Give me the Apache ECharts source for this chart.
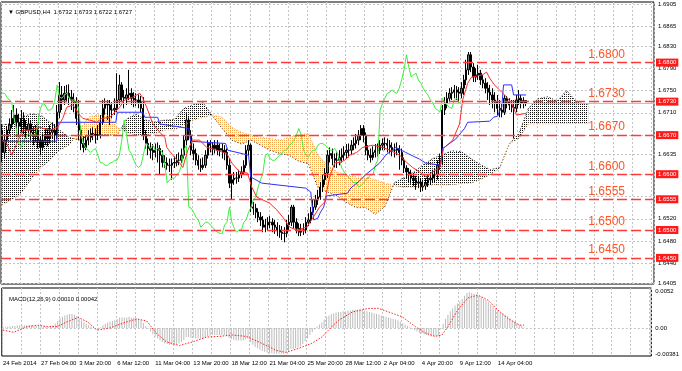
<!DOCTYPE html>
<html><head><meta charset="utf-8">
<script src="https://cdn.jsdelivr.net/npm/echarts@6/dist/echarts.min.js"></script>
<style>html,body{margin:0;padding:0;background:#fff}#c{width:682px;height:371px}</style>
</head><body><div id="c"></div>
<script>
// ---- data ----
const titleText = '\u25BC GBPUSD,H4  1.6732 1.6733 1.6722 1.6727';
const macdTitle = 'MACD(12,26,9) 0.00010 0.00042';
const slotCount = 273;
const timeLabels = ['24 Feb 2014','27 Feb 04:00','3 Mar 20:00','6 Mar 12:00','11 Mar 04:00','13 Mar 20:00','18 Mar 12:00','21 Mar 04:00','25 Mar 20:00','28 Mar 12:00','2 Apr 04:00','4 Apr 20:00','9 Apr 12:00','14 Apr 04:00'];
const timeLabelIdx = [0,16,32,48,64,80,96,112,128,144,160,176,192,208];
const priceGrid = [1.6405,1.6440,1.6480,1.6520,1.6560,1.6600,1.6635,1.6670,1.6710,1.6750,1.6790,1.6830,1.6865,1.6905];
const priceLabels = [1.6405,1.6440,1.6480,1.6520,1.6635,1.6710,1.6750,1.6790,1.6830,1.6865,1.6905];
const macdLabels = [0.0052,0,-0.00381];
const levels = [1.6800,1.6730,1.6670,1.6600,1.6555,1.6500,1.6450];
const bidPrice = 1.6727;

// candles: [open, close, low, high]
const candles = [
[1.6679,1.6639,1.6621,1.6690],[1.6639,1.6661,1.6628,1.6670],[1.6661,1.6679,1.6652,1.6686],[1.6679,1.6688,1.6672,1.6700],[1.6688,1.6700,1.6682,1.6715],
[1.6700,1.6706,1.6690,1.6724],[1.6706,1.6693,1.6682,1.6718],[1.6693,1.6686,1.6670,1.6708],[1.6686,1.6700,1.6675,1.6715],[1.6700,1.6684,1.6672,1.6711],
[1.6684,1.6679,1.6664,1.6697],[1.6679,1.6690,1.6668,1.6700],[1.6690,1.6675,1.6661,1.6697],[1.6675,1.6668,1.6652,1.6686],[1.6668,1.6679,1.6657,1.6688],
[1.6679,1.6661,1.6646,1.6682],[1.6661,1.6648,1.6634,1.6668],[1.6648,1.6661,1.6643,1.6673],[1.6661,1.6670,1.6652,1.6682],[1.6670,1.6664,1.6650,1.6682],
[1.6664,1.6675,1.6655,1.6688],[1.6675,1.6679,1.6664,1.6693],[1.6679,1.6670,1.6657,1.6690],[1.6670,1.6711,1.6664,1.6724],[1.6711,1.6742,1.6700,1.6765],
[1.6742,1.6733,1.6715,1.6758],[1.6733,1.6745,1.6724,1.6758],[1.6745,1.6745,1.6729,1.6760],[1.6745,1.6738,1.6724,1.6761],[1.6738,1.6733,1.6715,1.6751],
[1.6733,1.6729,1.6711,1.6745],[1.6729,1.6700,1.6688,1.6738],[1.6700,1.6679,1.6661,1.6733],[1.6679,1.6655,1.6643,1.6686],[1.6655,1.6648,1.6639,1.6668],
[1.6648,1.6661,1.6643,1.6670],[1.6661,1.6666,1.6652,1.6679],[1.6666,1.6673,1.6657,1.6682],[1.6673,1.6672,1.6661,1.6684],[1.6672,1.6670,1.6655,1.6682],
[1.6670,1.6670,1.6661,1.6688],[1.6670,1.6693,1.6664,1.6706],[1.6693,1.6718,1.6688,1.6733],[1.6718,1.6727,1.6706,1.6736],[1.6727,1.6724,1.6697,1.6733],
[1.6724,1.6715,1.6688,1.6733],[1.6715,1.6715,1.6700,1.6729],[1.6715,1.6718,1.6706,1.6736],[1.6718,1.6733,1.6711,1.6781],[1.6733,1.6760,1.6724,1.6778],
[1.6760,1.6738,1.6729,1.6765],[1.6738,1.6736,1.6718,1.6751],[1.6736,1.6742,1.6724,1.6754],[1.6742,1.6745,1.6733,1.6787],[1.6745,1.6736,1.6724,1.6754],
[1.6736,1.6733,1.6720,1.6747],[1.6733,1.6733,1.6722,1.6745],[1.6733,1.6729,1.6718,1.6743],[1.6729,1.6718,1.6711,1.6740],[1.6718,1.6670,1.6661,1.6738],
[1.6670,1.6655,1.6646,1.6679],[1.6655,1.6646,1.6634,1.6664],[1.6646,1.6643,1.6628,1.6657],[1.6643,1.6639,1.6625,1.6654],[1.6639,1.6643,1.6630,1.6655],
[1.6643,1.6646,1.6621,1.6657],[1.6646,1.6634,1.6599,1.6652],[1.6634,1.6621,1.6612,1.6643],[1.6621,1.6620,1.6611,1.6634],[1.6620,1.6616,1.6608,1.6630],
[1.6616,1.6616,1.6604,1.6628],[1.6616,1.6620,1.6590,1.6628],[1.6620,1.6621,1.6611,1.6632],[1.6621,1.6625,1.6614,1.6636],[1.6625,1.6625,1.6616,1.6639],
[1.6625,1.6634,1.6620,1.6646],[1.6634,1.6661,1.6628,1.6670],[1.6661,1.6697,1.6652,1.6709],[1.6697,1.6670,1.6661,1.6702],[1.6670,1.6643,1.6634,1.6679],
[1.6643,1.6637,1.6625,1.6655],[1.6637,1.6625,1.6616,1.6646],[1.6625,1.6616,1.6608,1.6634],[1.6616,1.6612,1.6604,1.6628],[1.6612,1.6616,1.6608,1.6630],
[1.6616,1.6634,1.6611,1.6643],[1.6634,1.6655,1.6628,1.6661],[1.6655,1.6652,1.6639,1.6661],[1.6652,1.6646,1.6634,1.6657],[1.6646,1.6652,1.6637,1.6661],
[1.6652,1.6643,1.6634,1.6661],[1.6643,1.6646,1.6632,1.6655],[1.6646,1.6643,1.6628,1.6655],[1.6643,1.6639,1.6625,1.6652],[1.6639,1.6616,1.6608,1.6646],
[1.6616,1.6584,1.6575,1.6628],[1.6584,1.6590,1.6554,1.6599],[1.6590,1.6593,1.6581,1.6604],[1.6593,1.6593,1.6583,1.6604],[1.6593,1.6599,1.6586,1.6608],
[1.6599,1.6604,1.6593,1.6614],[1.6604,1.6616,1.6599,1.6625],[1.6616,1.6643,1.6611,1.6652],[1.6643,1.6652,1.6634,1.6661],[1.6652,1.6541,1.6532,1.6655],
[1.6541,1.6539,1.6527,1.6550],[1.6539,1.6532,1.6521,1.6547],[1.6532,1.6523,1.6514,1.6539],[1.6523,1.6518,1.6507,1.6532],[1.6518,1.6505,1.6496,1.6525],
[1.6505,1.6509,1.6496,1.6520],[1.6509,1.6514,1.6500,1.6523],[1.6514,1.6514,1.6503,1.6525],[1.6514,1.6509,1.6496,1.6521],[1.6509,1.6505,1.6493,1.6518],
[1.6505,1.6500,1.6489,1.6514],[1.6500,1.6496,1.6486,1.6509],[1.6496,1.6494,1.6482,1.6507],[1.6494,1.6494,1.6478,1.6505],[1.6494,1.6509,1.6487,1.6518],
[1.6509,1.6514,1.6500,1.6527],[1.6514,1.6541,1.6507,1.6545],[1.6541,1.6514,1.6503,1.6545],[1.6514,1.6503,1.6494,1.6521],[1.6503,1.6496,1.6489,1.6512],
[1.6496,1.6500,1.6489,1.6511],[1.6500,1.6500,1.6491,1.6512],[1.6500,1.6514,1.6494,1.6523],[1.6514,1.6518,1.6507,1.6530],[1.6518,1.6532,1.6512,1.6541],
[1.6532,1.6541,1.6527,1.6554],[1.6541,1.6554,1.6536,1.6563],[1.6554,1.6559,1.6545,1.6572],[1.6559,1.6577,1.6554,1.6586],[1.6577,1.6590,1.6568,1.6599],
[1.6590,1.6602,1.6581,1.6611],[1.6602,1.6634,1.6593,1.6643],[1.6634,1.6637,1.6621,1.6648],[1.6637,1.6628,1.6616,1.6646],[1.6628,1.6625,1.6612,1.6637],
[1.6625,1.6625,1.6611,1.6639],[1.6625,1.6630,1.6616,1.6643],[1.6630,1.6634,1.6621,1.6646],[1.6634,1.6639,1.6625,1.6650],[1.6639,1.6643,1.6628,1.6654],
[1.6643,1.6643,1.6630,1.6655],[1.6643,1.6652,1.6634,1.6661],[1.6652,1.6655,1.6643,1.6666],[1.6655,1.6661,1.6646,1.6672],[1.6661,1.6670,1.6652,1.6679],
[1.6670,1.6682,1.6661,1.6688],[1.6682,1.6670,1.6657,1.6688],[1.6670,1.6643,1.6634,1.6675],[1.6643,1.6634,1.6625,1.6652],[1.6634,1.6630,1.6621,1.6646],
[1.6630,1.6639,1.6625,1.6650],[1.6639,1.6643,1.6630,1.6654],[1.6643,1.6643,1.6632,1.6655],[1.6643,1.6652,1.6636,1.6661],[1.6652,1.6655,1.6643,1.6664],
[1.6655,1.6655,1.6643,1.6666],[1.6655,1.6652,1.6639,1.6664],[1.6652,1.6648,1.6637,1.6661],[1.6648,1.6643,1.6632,1.6657],[1.6643,1.6643,1.6630,1.6655],
[1.6643,1.6646,1.6634,1.6657],[1.6646,1.6639,1.6608,1.6652],[1.6639,1.6625,1.6616,1.6646],[1.6625,1.6611,1.6602,1.6630],[1.6611,1.6604,1.6593,1.6616],
[1.6604,1.6599,1.6586,1.6611],[1.6599,1.6593,1.6583,1.6608],[1.6593,1.6590,1.6579,1.6602],[1.6590,1.6584,1.6572,1.6597],[1.6584,1.6586,1.6575,1.6597],
[1.6586,1.6577,1.6568,1.6593],[1.6577,1.6579,1.6570,1.6590],[1.6579,1.6584,1.6572,1.6593],[1.6584,1.6590,1.6577,1.6599],[1.6590,1.6593,1.6581,1.6604],
[1.6593,1.6599,1.6584,1.6608],[1.6599,1.6599,1.6586,1.6609],[1.6599,1.6616,1.6590,1.6625],[1.6616,1.6625,1.6608,1.6637],[1.6625,1.6715,1.6616,1.6724],
[1.6715,1.6727,1.6706,1.6738],[1.6727,1.6736,1.6718,1.6747],[1.6736,1.6745,1.6729,1.6754],[1.6745,1.6747,1.6733,1.6756],[1.6747,1.6751,1.6736,1.6760],
[1.6751,1.6747,1.6733,1.6758],[1.6747,1.6745,1.6729,1.6756],[1.6745,1.6754,1.6736,1.6765],[1.6754,1.6769,1.6742,1.6778],[1.6769,1.6787,1.6760,1.6805],
[1.6787,1.6814,1.6778,1.6819],[1.6814,1.6792,1.6783,1.6819],[1.6792,1.6774,1.6765,1.6799],[1.6774,1.6778,1.6765,1.6790],[1.6778,1.6781,1.6769,1.6796],
[1.6781,1.6769,1.6760,1.6787],[1.6769,1.6763,1.6754,1.6778],[1.6763,1.6754,1.6745,1.6772],[1.6754,1.6747,1.6733,1.6765],[1.6747,1.6742,1.6724,1.6760],
[1.6742,1.6733,1.6718,1.6754],[1.6733,1.6729,1.6711,1.6747],[1.6729,1.6718,1.6706,1.6742],[1.6718,1.6715,1.6702,1.6733],[1.6715,1.6711,1.6702,1.6727],
[1.6711,1.6736,1.6706,1.6742],[1.6736,1.6729,1.6718,1.6740],[1.6729,1.6724,1.6715,1.6736],[1.6724,1.6720,1.6711,1.6733],[1.6720,1.6718,1.6664,1.6733],
[1.6718,1.6733,1.6711,1.6742],[1.6733,1.6736,1.6724,1.6751],[1.6736,1.6727,1.6718,1.6742],[1.6727,1.6732,1.6718,1.6738],[1.6732,1.6727,1.6722,1.6733]
];

// Chikou span (drawn from slot 0)
const chikou = [
1.6745,1.6745,1.6738,1.6733,1.6729,1.6700,1.6679,1.6655,1.6648,1.6661,
1.6666,1.6673,1.6672,1.6670,1.6670,1.6693,1.6718,1.6727,1.6724,1.6715,
1.6715,1.6718,1.6733,1.6760,1.6738,1.6736,1.6742,1.6745,1.6736,1.6733,
1.6733,1.6729,1.6718,1.6670,1.6655,1.6646,1.6643,1.6639,1.6643,1.6646,
1.6634,1.6621,1.6620,1.6616,1.6616,1.6620,1.6621,1.6625,1.6625,1.6634,
1.6661,1.6697,1.6670,1.6643,1.6637,1.6625,1.6616,1.6612,1.6616,1.6634,
1.6655,1.6652,1.6646,1.6652,1.6643,1.6646,1.6643,1.6639,1.6616,1.6584,
1.6590,1.6593,1.6593,1.6599,1.6604,1.6616,1.6643,1.6652,1.6541,1.6539,
1.6532,1.6523,1.6518,1.6505,1.6509,1.6514,1.6514,1.6509,1.6505,1.6500,
1.6496,1.6494,1.6494,1.6509,1.6514,1.6541,1.6514,1.6503,1.6496,1.6500,
1.6500,1.6514,1.6518,1.6532,1.6541,1.6554,1.6559,1.6577,1.6590,1.6602,
1.6634,1.6637,1.6628,1.6625,1.6625,1.6630,1.6634,1.6639,1.6643,1.6643,
1.6652,1.6655,1.6661,1.6670,1.6682,1.6670,1.6643,1.6634,1.6630,1.6639,
1.6643,1.6643,1.6652,1.6655,1.6655,1.6652,1.6648,1.6643,1.6643,1.6646,
1.6639,1.6625,1.6611,1.6604,1.6599,1.6593,1.6590,1.6584,1.6586,1.6577,
1.6579,1.6584,1.6590,1.6593,1.6599,1.6599,1.6616,1.6625,1.6715,1.6727,
1.6736,1.6745,1.6747,1.6751,1.6747,1.6745,1.6754,1.6769,1.6787,1.6814,
1.6792,1.6774,1.6778,1.6781,1.6769,1.6763,1.6754,1.6747,1.6742,1.6733,
1.6729,1.6718,1.6715,1.6711,1.6736,1.6729,1.6724,1.6720,1.6718,1.6733,
1.6736,1.6727,1.6732,1.6727
];

// Tenkan-sen [slot, price]
const tenkan = [
[0,1.6661],[1.9,1.6655],[4,1.6634],[6.1,1.6655],[8.6,1.6679],[11.5,1.6679],[15.7,1.6684],[19.9,1.6679],[23.2,1.6684],[25.3,1.6700],
[27,1.6720],[29.5,1.6724],[32.4,1.6706],[33.7,1.6700],[36.6,1.6697],[39.5,1.6693],[41.6,1.6700],[45,1.6702],[49.1,1.6720],[51.2,1.6733],
[54.6,1.6738],[57.5,1.6745],[58.8,1.6736],[60.4,1.6720],[62.9,1.6691],[65.9,1.6675],[68,1.6666],[68.8,1.6648],[71.3,1.6634],[74.2,1.6620],
[75.5,1.6612],[77.6,1.6643],[79.6,1.6661],[82.6,1.6661],[85.5,1.6648],[89.7,1.6643],[93.9,1.6637],[96,1.6620],[99.3,1.6604],[102.6,1.6602],
[104.3,1.6577],[106.4,1.6559],[108.9,1.6554],[111.8,1.6548],[114.8,1.6536],[117.3,1.6523],[120.2,1.6505],[123.1,1.6500],[127.3,1.6505],[129.8,1.6521],
[132.7,1.6541],[134.8,1.6550],[136.9,1.6595],[139,1.6620],[141.1,1.6621],[143.2,1.6625],[145.3,1.6634],[148.2,1.6639],[150.7,1.6648],[154.9,1.6652],
[159,1.6648],[162,1.6643],[166.2,1.6634],[169.1,1.6621],[171.6,1.6612],[174.5,1.6604],[177.4,1.6595],[179.9,1.6604],[182.9,1.6612],[184.5,1.6646],
[188.3,1.6661],[191.2,1.6690],[192.5,1.6733],[194.6,1.6763],[196.2,1.6774],[200.8,1.6778],[202.5,1.6783],[203.8,1.6772],[205.8,1.6760],[208.8,1.6747],
[210.9,1.6738],[213,1.6727],[215,1.6706],[219,1.6709]
];

// Kijun-sen [slot, price]
const kijun = [
[0,1.6659],[22.8,1.6659],[23.4,1.6693],[47.5,1.6693],[48.1,1.6711],[58.8,1.6711],[59.6,1.6702],[65,1.6702],[65.9,1.6690],[78,1.6682],
[78.8,1.6659],[93.4,1.6655],[94.3,1.6643],[103,1.6634],[103.9,1.6595],[108.5,1.6584],[126.9,1.6575],[129,1.6568],[130.2,1.6518],[131.9,1.6521],
[133.1,1.6532],[134.4,1.6541],[135.6,1.6561],[144.4,1.6566],[145.7,1.6575],[149.4,1.6588],[151.9,1.6599],[154.5,1.6608],[157.8,1.6620],[160.3,1.6634],
[164.5,1.6648],[168.7,1.6639],[172,1.6632],[174.5,1.6627],[177,1.6620],[183.3,1.6616],[184.1,1.6646],[189.6,1.6663],[193.3,1.6682],[194.6,1.6693],
[203.8,1.6695],[205.4,1.6702],[207.1,1.6704],[207.9,1.6713],[208.8,1.6718],[209.6,1.6760],[213,1.6760],[213.8,1.6742],[219,1.6742]
];

// Senkou spans sampled at these slots
const cloudSlots = [0,4,8,12,16,20,24,28,32,36,40,44,48,52,56,60,64,68,72,76,80,84,88,92,96,100,104,108,112,116,120,124,128,132,136,140,144,148,152,156,160,164,168,172,176,180,184,188,192,196,200,204,208,212,216,220,224,228,232,236,240,244,245];
const spanA = [
1.6688,1.6691,1.6702,1.6708,1.6706,1.6693,1.6679,1.6666,1.6661,1.6669,
1.6671,1.6671,1.6669,1.6699,1.6708,1.6697,1.6694,1.6697,1.6698,1.6718,
1.6725,1.6728,1.6704,1.6682,1.6661,1.6654,1.6661,1.6652,1.6643,1.6637,
1.6634,1.6623,1.6619,1.6576,1.6568,1.6561,1.6549,1.6540,1.6540,1.6528,
1.6542,1.6585,1.6594,1.6604,1.6617,1.6628,1.6635,1.6642,1.6640,1.6628,
1.6617,1.6608,1.6612,1.6654,1.6673,1.6718,1.6735,1.6739,1.6731,1.6750,
1.6730,1.6725,1.6725
];
const spanB = [
1.6545,1.6554,1.6566,1.6590,1.6611,1.6625,1.6643,1.6652,1.6675,1.6702,
1.6706,1.6706,1.6684,1.6675,1.6670,1.6670,1.6673,1.6679,1.6679,1.6688,
1.6697,1.6702,1.6706,1.6702,1.6684,1.6675,1.6670,1.6666,1.6664,1.6661,
1.6666,1.6670,1.6673,1.6634,1.6616,1.6604,1.6599,1.6595,1.6595,1.6590,
1.6584,1.6579,1.6577,1.6577,1.6579,1.6581,1.6581,1.6581,1.6583,1.6584,
1.6590,1.6599,1.6611,1.6655,1.6664,1.6690,1.6690,1.6690,1.6690,1.6691,
1.6691,1.6691,1.6691
];

// MACD main (histogram), one per bar
const macdMain = [
0.0001,0.0001,0.0002,0.0002,0.0003,0.0003,0.0004,
0.0004,0.0004,0.0004,0.0004,0.0004,0.0004,0.0003,0.0003,
0.0003,0.0002,0.0002,0.0002,0.0002,0.0003,0.0004,
0.0006,0.0010,0.0014,0.0016,
0.0018,0.0019,0.0020,0.0020,0.0019,0.0017,0.0014,
0.0011,0.0008,0.0006,0.0004,0.0002,
0.0001,0.0000,-0.0001,0.0001,
0.0004,0.0006,0.0008,0.0009,0.0010,
0.0011,0.0013,0.0015,0.0015,0.0015,0.0015,0.0016,0.0015,0.0015,0.0014,0.0013,
0.0011,0.0007,0.0003,-0.0001,
-0.0005,-0.0009,-0.0012,-0.0015,-0.0018,
-0.0020,-0.0022,-0.0023,-0.0024,-0.0024,-0.0024,-0.0023,-0.0022,
-0.0020,-0.0017,-0.0013,-0.0013,-0.0014,-0.0014,-0.0015,-0.0015,-0.0015,
-0.0015,-0.0014,-0.0012,-0.0011,-0.0010,-0.0010,-0.0010,-0.0010,-0.0010,-0.0010,-0.0011,-0.0014,-0.0016,
-0.0017,-0.0018,-0.0018,-0.0018,-0.0018,-0.0016,-0.0015,-0.0020,-0.0024,-0.0027,
-0.0029,-0.0031,-0.0033,-0.0034,-0.0035,-0.0036,-0.0036,-0.0037,-0.0037,-0.0037,-0.0037,-0.0037,-0.0035,-0.0034,
-0.0030,-0.0030,-0.0029,-0.0028,-0.0026,-0.0023,-0.0019,-0.0015,-0.0010,
-0.0006,-0.0002,0.0002,0.0005,0.0008,0.0012,0.0016,0.0018,0.0020,
0.0021,0.0022,0.0023,0.0023,0.0024,0.0024,0.0025,0.0025,0.0026,0.0026,
0.0026,0.0027,0.0026,0.0025,0.0024,0.0023,0.0022,0.0021,0.0020,
0.0019,0.0018,0.0017,0.0016,0.0015,0.0014,0.0013,0.0012,0.0011,
0.0009,0.0007,0.0005,0.0003,0.0001,-0.0001,-0.0003,-0.0005,-0.0007,
-0.0008,-0.0009,-0.0010,-0.0011,-0.0012,-0.0012,-0.0012,-0.0011,
-0.0002,0.0006,0.0013,0.0019,0.0024,0.0028,0.0032,
0.0035,0.0038,0.0042,0.0046,0.0050,
0.0051,0.0050,0.0049,0.0048,0.0046,
0.0044,0.0042,0.0040,0.0037,0.0034,0.0031,0.0028,0.0025,0.0022,0.0021,0.0019,0.0017,
0.0014,0.0011,0.0009,0.0007,0.0005,0.0003,0.0001
];

// MACD signal [slot, value]
const macdSignal = [
[0,-0.0003],[4.4,-0.0006],[10.3,0.0002],[14.5,0.0004],[18.6,0.0002],[22.8,0.0002],[27,0.0009],[31.6,0.0015],[35.4,0.0009],[39.5,-0.0003],
[45,0.0000],[50.4,0.0007],[56.2,0.0013],[60.4,0.0010],[64.6,-0.0008],[68.8,-0.0020],[74.2,-0.0025],[79.6,-0.0020],[85.5,-0.0013],[90.9,-0.0012],
[96.4,-0.0010],[102.2,-0.0012],[107.6,-0.0020],[114.8,-0.0032],[118.9,-0.0035],[124.4,-0.0029],[129.8,-0.0022],[134,-0.0013],[138.2,0.0002],[141.1,0.0011],
[146.9,0.0023],[153.6,0.0028],[157.8,0.0028],[162,0.0023],[167.8,0.0016],[173.3,0.0002],[177.4,-0.0007],[181.6,-0.0012],[184.5,-0.0010],[187,0.0002],
[191.2,0.0026],[195.4,0.0043],[199.6,0.0047],[203.8,0.0040],[207.9,0.0026],[212.1,0.0014],[217.1,0.0004],[219,0.00042]
];

// ---- build ----
const slots = Array.from({length: slotCount}, (_, i) => String(i));
const labelAt = {};
timeLabelIdx.forEach((k, j) => { labelAt[k] = timeLabels[j]; });

function dotPattern(color, w, h) {
  const c = document.createElement('canvas');
  c.width = w; c.height = h;
  const g = c.getContext('2d');
  g.fillStyle = color; g.fillRect(0, 0, 1, 1);
  return { image: c, repeat: 'repeat' };
}
const upPattern = dotPattern('#111111', 2, 2);
const downPattern = dotPattern('#f5a650', 2, 2);

// cloud segments between consecutive samples: [x0, x1, a0, a1, b0, b1]
const cloudSegs = [];
for (let k = 0; k < cloudSlots.length - 1; k++) {
  cloudSegs.push([cloudSlots[k], cloudSlots[k + 1], spanA[k], spanA[k + 1], spanB[k], spanB[k + 1]]);
}
function renderCloud(params, api) {
  const x0 = api.value(0), x1 = api.value(1), a0 = api.value(2), a1 = api.value(3), b0 = api.value(4), b1 = api.value(5);
  const d0 = a0 - b0, d1 = a1 - b1;
  const out = [];
  const poly = (xa, xb, aa, ab, ba, bb, up) => ({
    type: 'polygon', silent: true,
    shape: { points: [api.coord([xa, aa]), api.coord([xb, ab]), api.coord([xb, bb]), api.coord([xa, ba])] },
    style: { fill: up ? upPattern : downPattern, stroke: null }
  });
  if (d0 * d1 < 0) {
    const t = d0 / (d0 - d1);
    const xm = x0 + t * (x1 - x0), am = a0 + t * (a1 - a0);
    out.push(poly(x0, xm, a0, am, b0, am, d0 > 0));
    out.push(poly(xm, x1, am, a1, am, b1, d1 > 0));
  } else {
    out.push(poly(x0, x1, a0, a1, b0, b1, (d0 + d1) >= 0));
  }
  return { type: 'group', children: out };
}

const FONT = 'Liberation Sans';
const gridLine = { show: true, lineStyle: { color: '#c4c4c4', type: [2, 2], width: 1 } };
const vInterval = (i) => i % 8 === 0;

const levelLines = levels.map(v => ({
  yAxis: v,
  lineStyle: { color: '#ff3a3a', type: [10, 4], width: 1.3 },
  label: { show: true, position: 'end', formatter: v.toFixed(4), backgroundColor: '#ff1a1a', color: '#fff', fontSize: 6, fontFamily: FONT, padding: [1, 2, 1, 2], distance: 2 }
}));
const levelTexts = levels.map(v => ({
  yAxis: v,
  label: { show: true, position: 'insideEndTop', formatter: v.toFixed(4), color: '#ff5526', fontSize: 12, fontFamily: FONT, padding: [0, 27, 0, 0], distance: 2 }
}));

const option = {
  animation: false,
  backgroundColor: '#ffffff',
  textStyle: { fontFamily: FONT },
  title: [
    { text: titleText, left: 3, top: 4, textStyle: { fontSize: 6, fontWeight: 'normal', color: '#000', fontFamily: FONT } },
    { text: macdTitle, left: 4, top: 291, textStyle: { fontSize: 6, fontWeight: 'normal', color: '#000', fontFamily: FONT } }
  ],
  grid: [
    { left: 1, right: 28, top: 2, height: 282, show: true, borderColor: '#000', borderWidth: 1, backgroundColor: 'transparent' },
    { left: 1, right: 28, top: 288, height: 68, show: true, borderColor: '#000', borderWidth: 1, backgroundColor: 'transparent' }
  ],
  xAxis: [
    { type: 'category', gridIndex: 0, data: slots, boundaryGap: true, axisLine: { show: false }, axisTick: { show: false }, axisLabel: { show: false }, splitLine: Object.assign({ interval: vInterval }, gridLine) },
    { type: 'value', gridIndex: 0, min: -0.5, max: slotCount - 0.5, show: false, splitLine: { show: false } },
    { type: 'category', gridIndex: 1, data: slots, boundaryGap: true, axisLine: { show: false }, axisTick: { show: false },
      axisLabel: { show: true, interval: (i) => labelAt[i] !== undefined, formatter: (v, i) => labelAt[i] || '', fontSize: 6, color: '#000', align: 'left', margin: 4, fontFamily: FONT },
      splitLine: Object.assign({ interval: vInterval }, gridLine) },
    { type: 'value', gridIndex: 1, min: -0.5, max: slotCount - 0.5, show: false, splitLine: { show: false } }
  ],
  yAxis: [
    { type: 'value', gridIndex: 0, position: 'right', min: 1.640321, max: 1.690858,
      axisLine: { show: false }, axisTick: { show: false, customValues: priceGrid },
      axisLabel: { customValues: priceLabels, formatter: (v) => v.toFixed(4), fontSize: 6, color: '#000', margin: 4, fontFamily: FONT },
      splitLine: gridLine },
    { type: 'value', gridIndex: 1, position: 'right', min: -0.004004, max: 0.00572,
      axisLine: { show: false }, axisTick: { show: false, customValues: [0] },
      axisLabel: { customValues: macdLabels, formatter: (v) => v === 0 ? '0.00' : String(v), fontSize: 6, color: '#000', margin: 4, fontFamily: FONT },
      splitLine: gridLine }
  ],
  series: [
    { name: 'Kumo', type: 'custom', xAxisIndex: 1, yAxisIndex: 0, data: cloudSegs, renderItem: renderCloud, encode: { x: [0, 1], y: [2, 3, 4, 5] }, silent: true, clip: true },
    { name: 'Senkou A', type: 'line', xAxisIndex: 1, yAxisIndex: 0, data: cloudSlots.map((x, k) => [x, spanA[k]]), showSymbol: false, lineStyle: { color: '#222', width: 1, type: [1, 2] }, silent: true },
    { name: 'Senkou B', type: 'line', xAxisIndex: 1, yAxisIndex: 0, data: cloudSlots.map((x, k) => [x, spanB[k]]), showSymbol: false, lineStyle: { color: '#f5982e', width: 1, type: [1, 2] }, silent: true },
    { name: 'Chikou', type: 'line', xAxisIndex: 0, yAxisIndex: 0, data: chikou, showSymbol: false, lineStyle: { color: '#3cef3c', width: 1 }, silent: true },
    { name: 'Kijun', type: 'line', xAxisIndex: 1, yAxisIndex: 0, data: kijun, showSymbol: false, lineStyle: { color: '#2f2fff', width: 1 }, silent: true },
    { name: 'Tenkan', type: 'line', xAxisIndex: 1, yAxisIndex: 0, data: tenkan, showSymbol: false, lineStyle: { color: '#ff2a2a', width: 1 }, silent: true },
    { name: 'GBPUSD', type: 'candlestick', xAxisIndex: 0, yAxisIndex: 0, data: candles, barWidth: 1.8,
      itemStyle: { color: '#7a7a7a', color0: '#000', borderColor: '#000', borderColor0: '#000', borderWidth: 1 } },
    { name: 'levels', type: 'line', xAxisIndex: 1, yAxisIndex: 0, data: [], silent: true,
      markLine: { silent: true, precision: 4, symbol: ['none', 'none'], animation: false,
        data: [{ yAxis: bidPrice, lineStyle: { color: '#c0c0c0', type: 'solid', width: 1 }, label: { show: false } }].concat(levelLines) } },
    { name: 'levelText', type: 'line', xAxisIndex: 1, yAxisIndex: 0, data: [], silent: true,
      markLine: { silent: true, precision: 4, symbol: ['none', 'none'], animation: false, lineStyle: { width: 0, color: 'rgba(0,0,0,0)' },
        data: levelTexts } },
    { name: 'MACD', type: 'bar', xAxisIndex: 2, yAxisIndex: 1, data: macdMain, barWidth: 1, itemStyle: { color: '#bcbcbc' }, silent: true },
    { name: 'Signal', type: 'line', xAxisIndex: 3, yAxisIndex: 1, data: macdSignal, showSymbol: false, lineStyle: { color: '#ff2020', width: 1, type: [1.5, 1.5] }, silent: true }
  ]
};
const chart = echarts.init(document.getElementById('c'), null, { renderer: 'canvas' });
chart.setOption(option);
</script>
</body></html>
